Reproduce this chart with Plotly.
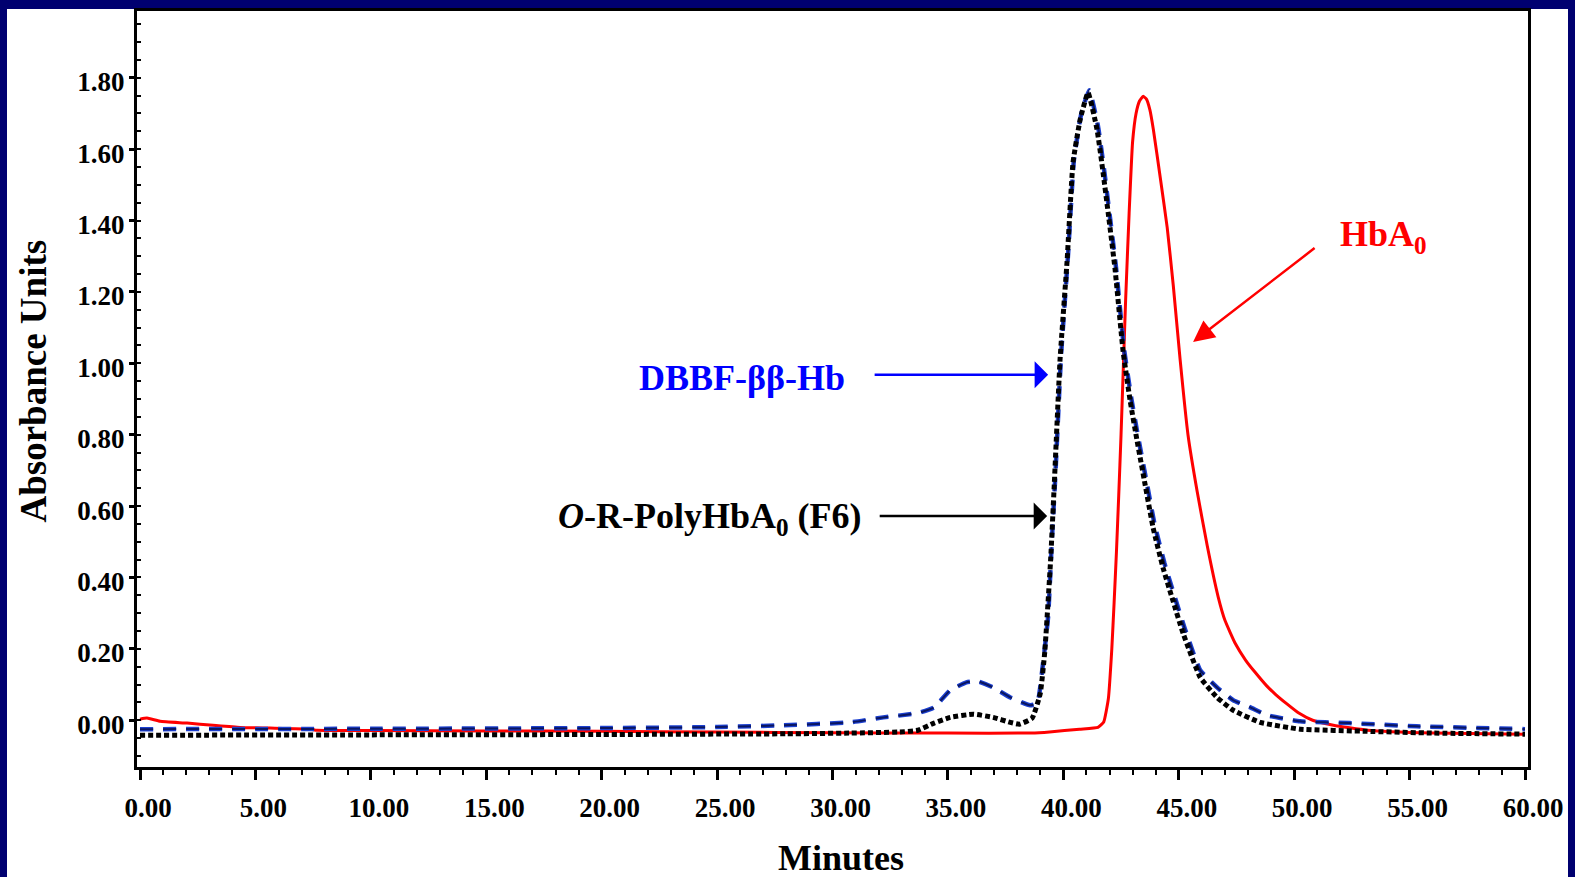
import plotly.graph_objects as go

# ---------------- data (minutes, absorbance units) ----------------
red_t = [0, 0.3, 0.87, 2.04, 3.16, 4.33, 5.63, 7.37, 7.67, 10, 15, 20, 25, 30, 35, 38.6, 39.4,
         40.7, 41.5, 41.75, 41.95, 42.1, 42.2, 42.3, 42.4, 42.5, 42.6, 42.7, 42.85, 43.0, 43.15,
         43.3, 43.46, 43.6, 43.75, 43.9, 44.2, 44.5, 44.76, 45.06, 45.4, 45.8, 46.23, 46.71,
         47.0, 47.45, 47.9, 48.3, 48.8, 49.2, 49.7, 50.2, 50.8, 51.7, 53.16, 56.02, 60]
red_v = [0.003, 0.006, -0.003, -0.008, -0.014, -0.020, -0.022, -0.025, -0.028, -0.029, -0.030,
         -0.031, -0.033, -0.035, -0.036, -0.036, -0.033, -0.025, -0.020, -0.005, 0.06, 0.20,
         0.33, 0.47, 0.63, 0.80, 0.99, 1.18, 1.42, 1.62, 1.70, 1.735, 1.748, 1.74, 1.71, 1.655,
         1.52, 1.38, 1.22, 1.01, 0.80, 0.64, 0.49, 0.345, 0.28, 0.215, 0.168, 0.135, 0.097, 0.072,
         0.045, 0.02, 0.0, -0.014, -0.028, -0.036, -0.039]

blue_t = [0, 10, 20, 25, 27.9, 30.76, 32.2, 33.7, 34.4, 35.1, 35.8, 36.3, 36.96, 37.7, 38.56,
          38.87, 39.1, 39.34, 39.5, 39.65, 39.9, 40.2, 40.46, 40.78, 41.12, 41.5, 41.76, 41.98,
          42.28, 42.63, 42.95, 43.25, 43.6, 43.95, 44.38, 44.78, 45.26, 45.93, 46.66, 47.36, 48.1,
          48.83, 50.26, 52.4, 55.3, 60]
blue_v = [-0.025, -0.024, -0.022, -0.019, -0.014, -0.006, 0.008, 0.020, 0.036, 0.084, 0.106,
          0.109, 0.092, 0.064, 0.042, 0.047, 0.148, 0.29, 0.50, 0.68, 1.02, 1.30, 1.57, 1.70,
          1.765, 1.665, 1.545, 1.43, 1.27, 1.04, 0.90, 0.79, 0.67, 0.55, 0.44, 0.355, 0.257, 0.14,
          0.092, 0.056, 0.036, 0.014, -0.003, -0.008, -0.017, -0.025]

black_t = [0, 10, 20, 28, 30.76, 32.9, 33.7, 34.4, 35.1, 36.1, 36.96, 37.7, 38.1, 38.65, 39.0,
           39.2, 39.45, 39.6, 39.86, 40.16, 40.42, 40.73, 41.07, 41.46, 41.72, 41.94, 42.24, 42.59,
           42.9, 43.2, 43.54, 43.89, 44.32, 44.71, 45.19, 45.93, 46.66, 47.36, 48.53, 50.26, 53.16,
           56.02, 60]
black_v = [-0.042, -0.041, -0.040, -0.038, -0.036, -0.033, -0.028, -0.008, 0.008, 0.017, 0.008,
           -0.006, -0.011, 0.006, 0.075, 0.195, 0.45, 0.65, 1.013, 1.284, 1.563, 1.683, 1.758,
           1.655, 1.535, 1.423, 1.264, 1.033, 0.893, 0.781, 0.661, 0.539, 0.427, 0.343, 0.243,
           0.12, 0.064, 0.028, -0.006, -0.025, -0.031, -0.036, -0.039]

x_ticks = [0, 5, 10, 15, 20, 25, 30, 35, 40, 45, 50, 55, 60]
y_ticks = [0.0, 0.2, 0.4, 0.6, 0.8, 1.0, 1.2, 1.4, 1.6, 1.8]

# ---------------- figure ----------------
W, H = 1575, 877
ML, MR, MT, MB = 137, 47, 8, 110
PW, PH = W - ML - MR, H - MT - MB
FONT = "Liberation Serif"
NAVY = "#000070"

fig = go.Figure()
fig.add_trace(go.Scatter(x=red_t, y=red_v, mode="lines", name="HbA0",
                         line=dict(color="#ff0000", width=3, shape="spline", smoothing=0.4)))
fig.add_trace(go.Scatter(x=blue_t, y=blue_v, mode="lines", name="DBBF",
                         line=dict(color="#1c40d0", width=4.5, dash="13px,10px",
                                   shape="spline", smoothing=0.4)))
fig.add_trace(go.Scatter(x=blue_t, y=blue_v, mode="lines", name="DBBF core",
                         line=dict(color="#0a1660", width=2, dash="13px,10px",
                                   shape="spline", smoothing=0.4)))
fig.add_trace(go.Scatter(x=black_t, y=black_v, mode="lines", name="F6",
                         line=dict(color="#000000", width=5, dash="5px,3px",
                                   shape="spline", smoothing=0.4)))


def px_x(p):
    return (p - ML) / PW


def px_y(p):
    return (H - MB - p) / PH


# white page inside navy frame
fig.add_shape(type="rect", xref="paper", yref="paper", layer="below",
              x0=px_x(7), x1=px_x(1568), y0=px_y(900), y1=px_y(6),
              fillcolor="white", line=dict(width=0))

tfont = dict(family=FONT, size=27, color="black", weight="bold")
fig.update_layout(
    width=W, height=H, showlegend=False,
    margin=dict(l=ML, r=MR, t=MT, b=MB),
    paper_bgcolor=NAVY, plot_bgcolor="white",
    xaxis=dict(range=[-0.13, 60.13], tickvals=x_ticks, tickformat=".2f",
               showgrid=False, zeroline=False, showline=True, mirror=True,
               linecolor="black", linewidth=3, ticks="outside", ticklen=10,
               tickwidth=3, tickcolor="black", tickfont=tfont,
               ticklabelshift=8, ticklabelstandoff=5,
               minor=dict(dtick=1, ticks="outside", ticklen=5, tickwidth=2,
                          tickcolor="black")),
    yaxis=dict(range=[-0.131, 1.987], tickvals=y_ticks, tickformat=".2f",
               showgrid=False, zeroline=False, showline=True, mirror=True,
               linecolor="black", linewidth=3, ticks="outside", ticklen=5,
               tickwidth=3, tickcolor="black", tickfont=tfont,
               ticklabelshift=4, ticklabelstandoff=-1,
               minor=dict(dtick=0.05, ticks="inside", ticklen=4, tickwidth=1.5,
                          tickcolor="black")),
)

afont = dict(family=FONT, size=36, weight="bold")
# axis titles
fig.add_annotation(text="Absorbance Units", xref="paper", yref="paper",
                   x=px_x(34), y=px_y(380), xanchor="center", yanchor="middle",
                   textangle=-90, showarrow=False,
                   font=dict(family=FONT, size=37, color="black", weight="bold"))
fig.add_annotation(text="Minutes", xref="paper", yref="paper",
                   x=px_x(841), y=px_y(858), xanchor="center", yanchor="middle",
                   showarrow=False,
                   font=dict(family=FONT, size=36, color="black", weight="bold"))

# labels
fig.add_annotation(text="DBBF-ββ-Hb", x=26.1, y=0.96, showarrow=False,
                   font=dict(afont, color="#0000ff"))
fig.add_annotation(text="<i>O</i>-R-PolyHbA<sub>0</sub> (F6)", x=24.7, y=0.565,
                   showarrow=False, font=dict(afont, color="black"))
fig.add_annotation(text="HbA<sub>0</sub>", x=53.86, y=1.355, showarrow=False,
                   font=dict(afont, color="#ff0000"))

# arrows
fig.add_annotation(x=39.34, y=0.968, ax=31.76, ay=0.968, axref="x", ayref="y",
                   text="", showarrow=True, arrowhead=1, arrowsize=1.8,
                   arrowwidth=2.5, arrowcolor="#0000ff")
fig.add_annotation(x=39.3, y=0.572, ax=31.98, ay=0.572, axref="x", ayref="y",
                   text="", showarrow=True, arrowhead=1, arrowsize=1.8,
                   arrowwidth=2.5, arrowcolor="black")
fig.add_annotation(x=45.62, y=1.06, ax=50.95, ay=1.326, axref="x", ayref="y",
                   text="", showarrow=True, arrowhead=2, arrowsize=1.7,
                   arrowwidth=2.5, arrowcolor="#ff0000")

fig.write_html("out.html")
